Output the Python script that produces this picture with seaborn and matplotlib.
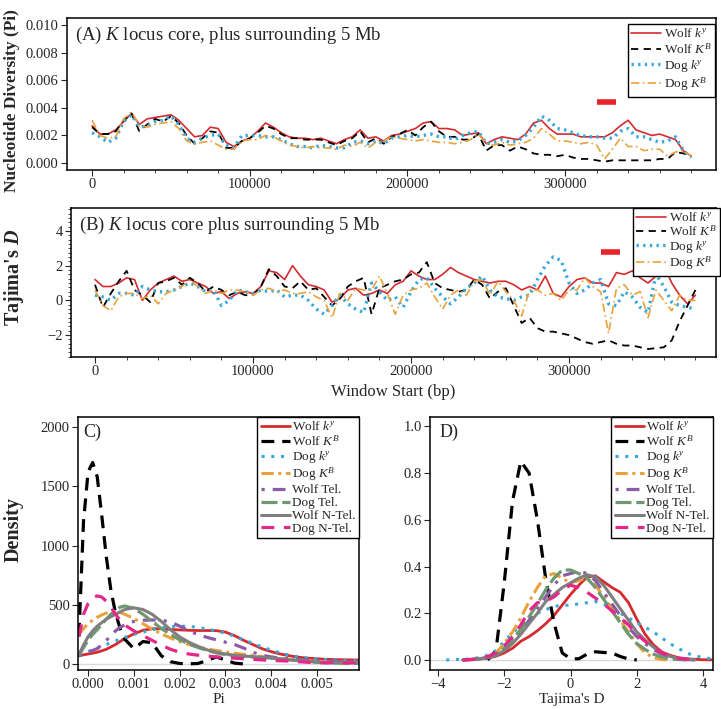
import numpy as np
import pandas as pd
import matplotlib.pyplot as plt
import seaborn as sns
from matplotlib.ticker import AutoMinorLocator, MultipleLocator

sns.set_style('ticks')
plt.rcParams['font.family'] = ['Liberation Serif', 'DejaVu Serif']
plt.rcParams['mathtext.fontset'] = 'custom'
plt.rcParams['mathtext.rm'] = 'Liberation Serif'
plt.rcParams['mathtext.it'] = 'Liberation Serif:italic'
plt.rcParams['mathtext.bf'] = 'Liberation Serif:bold'
plt.rcParams['mathtext.bfit'] = 'Liberation Serif:bold:italic'

# ---- data: sliding windows (panels A, B) ----
win_start = np.arange(0, 385000, 5000)

pi_wolf_ky = [0.0027, 0.0021, 0.0021, 0.0024, 0.0030, 0.0036, 0.0028, 0.0032, 0.0033, 0.0034,
              0.0035, 0.0031, 0.0025, 0.0019, 0.0020, 0.0026, 0.0025, 0.0015, 0.0012, 0.0016,
              0.0018, 0.0023, 0.0029, 0.0026, 0.0022, 0.0019, 0.0018, 0.0018, 0.0017, 0.0018,
              0.0016, 0.0014, 0.0017, 0.0019, 0.0024, 0.0018, 0.0019, 0.0016, 0.0020, 0.0021,
              0.0023, 0.0025, 0.0029, 0.0030, 0.0025, 0.0025, 0.0024, 0.0020, 0.0021, 0.0022,
              0.0014, 0.0017, 0.0019, 0.0018, 0.0017, 0.0021, 0.0029, 0.0031, 0.0025, 0.0021,
              0.0021, 0.0021, 0.0019, 0.0019, 0.0019, 0.0019, 0.0022, 0.0027, 0.0031, 0.0024,
              0.0022, 0.0020, 0.0021, 0.0019, 0.0017, 0.0009, 0.0005]
pi_wolf_KB = [0.0026, 0.0021, 0.0021, 0.0023, 0.0031, 0.0036, 0.0023, 0.0028, 0.0032, 0.0030,
              0.0034, 0.0029, 0.0020, 0.0014, 0.0018, 0.0023, 0.0022, 0.0011, 0.0011, 0.0016,
              0.0018, 0.0022, 0.0027, 0.0025, 0.0021, 0.0018, 0.0018, 0.0017, 0.0017, 0.0017,
              0.0015, 0.0013, 0.0016, 0.0018, 0.0023, 0.0015, 0.0018, 0.0014, 0.0019, 0.0021,
              0.0024, 0.0020, 0.0026, 0.0030, 0.0023, 0.0019, 0.0019, 0.0017, 0.0017, 0.0021,
              0.0009, 0.0013, 0.0013, 0.0009, 0.0012, 0.0010, 0.0007, 0.0006, 0.0006, 0.0005,
              0.0006, 0.0004, 0.0003, 0.0003, 0.0002, 0.0001, 0.0002, 0.0002, 0.0002, 0.0002,
              0.0002, 0.0002, 0.0003, 0.0003, 0.0008, 0.0007, 0.0005]
pi_dog_ky = [0.0022, 0.0019, 0.0015, 0.0018, 0.0030, 0.0035, 0.0026, 0.0027, 0.0030, 0.0031,
             0.0034, 0.0028, 0.0018, 0.0015, 0.0018, 0.0020, 0.0021, 0.0013, 0.0011, 0.0020,
             0.0020, 0.0020, 0.0019, 0.0019, 0.0017, 0.0014, 0.0012, 0.0012, 0.0011, 0.0013,
             0.0012, 0.0011, 0.0011, 0.0015, 0.0016, 0.0014, 0.0016, 0.0014, 0.0018, 0.0019,
             0.0020, 0.0019, 0.0020, 0.0021, 0.0019, 0.0019, 0.0017, 0.0020, 0.0022, 0.0023,
             0.0014, 0.0015, 0.0017, 0.0015, 0.0016, 0.0020, 0.0026, 0.0034, 0.0031, 0.0025,
             0.0024, 0.0022, 0.0020, 0.0019, 0.0019, 0.0018, 0.0018, 0.0023, 0.0025, 0.0019,
             0.0019, 0.0017, 0.0015, 0.0016, 0.0019, 0.0009, 0.0004]
pi_dog_KB = [0.0031, 0.0020, 0.0018, 0.0019, 0.0032, 0.0037, 0.0027, 0.0026, 0.0028, 0.0029,
             0.0030, 0.0025, 0.0016, 0.0014, 0.0015, 0.0016, 0.0013, 0.0010, 0.0010, 0.0016,
             0.0017, 0.0017, 0.0020, 0.0019, 0.0016, 0.0013, 0.0012, 0.0011, 0.0012, 0.0011,
             0.0011, 0.0010, 0.0013, 0.0012, 0.0015, 0.0011, 0.0015, 0.0016, 0.0019, 0.0018,
             0.0017, 0.0016, 0.0017, 0.0016, 0.0015, 0.0015, 0.0014, 0.0015, 0.0017, 0.0021,
             0.0014, 0.0013, 0.0015, 0.0013, 0.0014, 0.0015, 0.0018, 0.0025, 0.0021, 0.0016,
             0.0016, 0.0015, 0.0014, 0.0015, 0.0013, 0.0003, 0.0010, 0.0018, 0.0012, 0.0012,
             0.0009, 0.0010, 0.0010, 0.0005, 0.0008, 0.0009, 0.0005]

td_wolf_ky = [1.2, 0.8, 0.8, 1.0, 1.3, 1.2, 0.0, 0.6, 1.0, 1.2,
              1.4, 1.1, 1.2, 1.0, 0.8, 0.4, 0.5, 0.1, 0.4, 0.5,
              0.4, 0.8, 1.7, 1.6, 1.2, 2.0, 1.4, 0.9, 0.8, 0.6,
              -0.1, 0.1, 0.6, 0.7, 0.3, 0.4, 0.6, 0.4, 0.9, 1.1,
              1.7, 1.4, 1.2, 1.2, 1.5, 1.9, 1.6, 1.4, 1.2, 1.1,
              1.0, 1.1, 1.1, 0.9, 0.6, 0.8, 0.6, 1.4, 0.4, 0.2,
              0.8, 1.2, 1.3, 1.0, 1.0, 0.8, 1.6, 1.5, 1.7, 1.3,
              1.0, 1.4, 2.0, 1.0, 0.3, -0.2, 0.3]
td_wolf_KB = [0.9, -0.4, 0.4, 1.1, 1.7, 0.6, 0.3, -0.1, 1.0, 1.1,
              1.3, 0.9, 1.3, 1.0, 0.5, 0.8, 0.6, 0.3, 0.5, 0.3,
              0.3, 0.8, 1.8, 1.4, 0.8, 0.7, 1.1, 0.6, 0.7, 0.2,
              -0.3, 0.1, 0.8, 1.1, 1.3, -0.8, 0.7, 0.9, 1.1, 1.2,
              1.5, 1.6, 2.2, 1.0, 0.7, 0.6, 0.5, 0.6, 1.2, 0.9,
              0.1, 0.5, 0.7, -0.3, -1.3, -1.0, -1.6, -1.8, -1.8, -1.9,
              -2.0, -2.2, -2.4, -2.5, -2.4, -2.3, -2.5, -2.6, -2.6, -2.7,
              -2.8, -2.75, -2.7, -2.3, -1.2, -0.3, 0.6]
td_dog_ky = [0.3, 0.2, 0.0, 0.4, 0.4, 0.3, 0.8, 0.6, 0.5, 0.5,
             0.6, 0.8, 1.0, 0.8, 0.5, 0.6, -0.3, 0.0, 0.6, 0.5,
             0.4, 0.6, 0.5, 0.6, 0.2, 0.3, 0.3, 0.0, -0.5, -0.8,
             -0.3, 0.3, -0.2, -0.5, -0.7, 1.0, 0.5, 0.0, 0.2, -0.4,
             0.5, 1.2, 1.3, 0.7, 0.2, -0.2, 0.2, 0.7, 1.0, 1.4,
             0.6, 0.2, 0.1, 0.0, 0.2, 0.3, 1.2, 2.0, 2.5, 2.3,
             1.0, 0.4, 0.6, 1.0, 1.2, -0.2, -0.3, 0.5, 0.2, -0.4,
             -0.7, 1.5, 0.8, -0.1, -0.3, -0.4, -0.5]
td_dog_KB = [0.6, -0.3, -0.6, 0.2, 0.4, 0.4, 0.1, 0.3, -0.2, 0.4,
             0.6, 0.8, 1.2, 0.8, 0.4, 0.6, 0.4, 0.6, 0.6, 0.5,
             0.3, 0.6, 0.7, 0.5, 0.6, 0.4, 0.4, 0.5, 0.2, 0.0,
             -1.0, 0.4, 0.0, 0.7, 0.6, 0.6, 1.4, 0.4, -0.8, 0.3,
             0.6, 0.7, 1.0, 0.2, -0.5, 0.3, 0.6, 0.3, 1.1, 1.2,
             0.3, 1.1, 0.5, 0.0, -0.9, 0.6, 0.6, 0.3, 0.4, 0.0,
             0.6, 0.6, 1.3, 0.8, 0.5, -1.9, 0.7, 0.9, 0.3, 0.5,
             -1.0, 0.6, 0.0, -0.6, 0.3, 0.0, 0.0]

# K locus core region marker
core_start, core_end = 320000, 332000
core_pi_level = 0.0044
core_td_level = 2.8

# ---- data: densities (panels C, D) ----
pi_grid = [-0.0002, -0.0001, 0.0, 0.0001, 0.0002, 0.0003, 0.0004, 0.0005, 0.0006, 0.0007, 0.0008,
           0.0010, 0.0012, 0.0014, 0.0016, 0.0018, 0.0020, 0.0022, 0.0024, 0.0026, 0.0028,
           0.0030, 0.0032, 0.0034, 0.0036, 0.0038, 0.0040, 0.0042, 0.0044, 0.0046, 0.0048,
           0.0050, 0.0052, 0.0054, 0.0056, 0.0058, 0.0060]
nan = np.nan
dens_pi = {
    'wolf_ky': [70, 78, 85, 92, 100, 112, 125, 145, 165, 190, 215,
                255, 285, 298, 298, 292, 288, 285, 283, 283, 282,
                270, 240, 200, 165, 130, 105, 85, 70, 58, 50,
                45, 40, 38, 36, 35, 34],
    'wolf_KB': [240, 1200, 1620, 1700, 1580, 1250, 900, 620, 430, 300, 210,
                130, 190, 180, 70, 20, 5, 2, 5, 30, 60,
                35, 8, 1, nan, nan, nan, nan, nan, nan, nan,
                nan, nan, nan, nan, nan, nan],
    'dog_ky': [80, 90, 105, 120, 135, 150, 165, 180, 195, 210, 225,
               250, 270, 290, 305, 315, 320, 318, 310, 295, 280,
               260, 235, 205, 175, 145, 118, 95, 75, 60, 50,
               43, 38, 34, 30, 28, 26],
    'dog_KB': [250, 300, 340, 370, 395, 415, 430, 438, 440, 435, 420,
               385, 340, 295, 255, 220, 190, 165, 145, 128, 115,
               103, 92, 82, 73, 64, 55, 46, 38, 31, 26,
               22, 19, 17, 16, 15, 15],
    'wolf_tel': [70, 85, 100, 115, 130, 165, 200, 240, 280, 310, 330,
                 360, 370, 372, 370, 355, 320, 280, 250, 225, 205,
                 185, 165, 135, 100, 75, 60, 50, 45, 40, 35,
                 30, 26, 23, 21, 20, 20],
    'dog_tel': [70, 140, 200, 250, 290, 335, 380, 420, 450, 480, 490,
                470, 420, 360, 300, 250, 205, 170, 140, 115, 95,
                80, 70, 65, 60, 55, 50, 45, 38, 30, 22,
                15, 10, 8, 7, 6, 6],
    'wolf_ntel': [80, 160, 230, 280, 320, 350, 380, 400, 420, 440, 460,
                  475, 460, 420, 360, 290, 230, 185, 150, 120, 100,
                  85, 75, 68, 62, 56, 50, 42, 35, 28, 22,
                  18, 15, 13, 12, 12, 12],
    'dog_ntel': [230, 420, 510, 560, 575, 565, 530, 480, 420, 370, 330,
                 280, 240, 200, 160, 125, 100, 85, 75, 68, 60,
                 55, 50, 45, 40, 35, 30, 28, 25, 20, 15,
                 12, 11, 10, 10, 10, 10],
}

td_grid = np.arange(-3.75, 4.5, 0.25)
dens_td = {
    'wolf_ky': [nan, nan, 0.0, 0.001, 0.004, 0.008, 0.016, 0.03, 0.05, 0.08, 0.10, 0.125, 0.155, 0.19,
                0.235, 0.28, 0.32, 0.355, 0.36, 0.335, 0.31, 0.29, 0.245, 0.175, 0.11, 0.065, 0.035,
                0.02, 0.01, 0.005, 0.003, 0.001, 0.0005],
    'wolf_KB': [nan, nan, nan, nan, nan, 0.0, 0.04, 0.33, 0.68, 0.85, 0.8, 0.6, 0.35, 0.16, 0.03,
                0.005, 0.005, 0.025, 0.035, 0.032, 0.03, 0.015, 0.004, 0.0,
                nan, nan, nan, nan, nan, nan, nan, nan, nan],
    'dog_ky': [0.0, 0.002, 0.003, 0.005, 0.01, 0.02, 0.04, 0.08, 0.115, 0.15, 0.175, 0.20, 0.215,
               0.23, 0.233, 0.235, 0.24, 0.245, 0.25, 0.24, 0.22, 0.2, 0.18, 0.16, 0.14, 0.12, 0.095,
               0.07, 0.05, 0.03, 0.018, 0.01, 0.005],
    'dog_KB': [nan, nan, nan, 0.0, 0.004, 0.01, 0.03, 0.07, 0.12, 0.18, 0.25, 0.31, 0.36, 0.37,
               0.35, 0.33, 0.34, 0.35, 0.32, 0.27, 0.22, 0.17, 0.12, 0.07, 0.03, 0.01, 0.002, 0.0,
               nan, nan, nan, nan, nan],
    'wolf_tel': [nan, nan, 0.0, 0.002, 0.005, 0.01, 0.02, 0.04, 0.075, 0.12, 0.17, 0.22, 0.27,
                 0.32, 0.36, 0.37, 0.38, 0.37, 0.34, 0.29, 0.24, 0.19, 0.14, 0.1, 0.07, 0.045,
                 0.025, 0.012, 0.005, 0.002, 0.0, nan, nan],
    'dog_tel': [nan, nan, 0.0, 0.002, 0.005, 0.01, 0.025, 0.05, 0.09, 0.13, 0.185, 0.24, 0.3,
                0.35, 0.385, 0.385, 0.37, 0.35, 0.31, 0.26, 0.21, 0.16, 0.11, 0.07, 0.045, 0.025,
                0.012, 0.005, 0.002, 0.0, nan, nan, nan],
    'wolf_ntel': [nan, nan, 0.0, 0.002, 0.005, 0.01, 0.02, 0.04, 0.07, 0.11, 0.155, 0.2, 0.25,
                  0.28, 0.31, 0.33, 0.35, 0.365, 0.355, 0.32, 0.27, 0.22, 0.17, 0.12, 0.085,
                  0.055, 0.03, 0.015, 0.007, 0.003, 0.001, nan, nan],
    'dog_ntel': [nan, nan, 0.0, 0.002, 0.006, 0.015, 0.03, 0.06, 0.1, 0.15, 0.21, 0.245, 0.25,
                 0.27, 0.3, 0.32, 0.31, 0.29, 0.265, 0.24, 0.21, 0.18, 0.15, 0.11, 0.08, 0.05,
                 0.03, 0.015, 0.007, 0.003, 0.001, nan, nan],
}

# ---- styles ----
RED, BLUE, ORANGE = '#d52a2e', '#37a8dc', '#e9a23b'
PURPLE, GREEN, GRAY, MAGENTA = '#8d5ba6', '#6e9870', '#7f7f7f', '#e4288a'

labels = {
    'wolf_ky': 'Wolf $k^{y}$', 'wolf_KB': 'Wolf $K^{B}$',
    'dog_ky': 'Dog $k^{y}$', 'dog_KB': 'Dog $K^{B}$',
    'wolf_tel': 'Wolf Tel.', 'dog_tel': 'Dog Tel.',
    'wolf_ntel': 'Wolf N-Tel.', 'dog_ntel': 'Dog N-Tel.',
}
win_styles = {
    'wolf_ky': dict(color=RED, linestyle='-', lw=1.2),
    'wolf_KB': dict(color='black', linestyle=(0, (4, 3)), lw=1.3),
    'dog_ky': dict(color=BLUE, linestyle=(0, (0.7, 1.3)), lw=2.4),
    'dog_KB': dict(color=ORANGE, linestyle=(0, (5, 2, 1, 2)), lw=1.2),
}
dens_styles = {
    'wolf_ky': dict(color=RED, linestyle='-', lw=2.0),
    'wolf_KB': dict(color='black', linestyle=(0, (4, 2.5)), lw=2.3),
    'dog_ky': dict(color=BLUE, linestyle=(0, (1, 2.2)), lw=2.2),
    'dog_KB': dict(color=ORANGE, linestyle=(0, (4, 1.5, 1, 1.5)), lw=2.2),
    'wolf_tel': dict(color=PURPLE, linestyle=(0, (1, 2.5, 4, 2.5)), lw=2.3),
    'dog_tel': dict(color=GREEN, linestyle=(0, (5, 1.5)), lw=2.3),
    'wolf_ntel': dict(color=GRAY, linestyle='-', lw=2.2),
    'dog_ntel': dict(color=MAGENTA, linestyle=(0, (4, 3)), lw=2.3),
}

pi_win = {'wolf_ky': pi_wolf_ky, 'wolf_KB': pi_wolf_KB, 'dog_ky': pi_dog_ky, 'dog_KB': pi_dog_KB}
td_win = {'wolf_ky': td_wolf_ky, 'wolf_KB': td_wolf_KB, 'dog_ky': td_dog_ky, 'dog_KB': td_dog_KB}

W, H = 721, 709
fig = plt.figure(figsize=(W / 100, H / 100), dpi=100)


def box(l, t, r, b):
    return [l / W, 1 - b / H, (r - l) / W, (b - t) / H]


axA = fig.add_axes(box(67, 18, 716, 170))
axB = fig.add_axes(box(71, 208, 716, 357))
axC = fig.add_axes(box(78, 417, 359, 670))
axD = fig.add_axes(box(430, 417, 713, 670))

for ax in (axA, axB, axC, axD):
    for sp in ax.spines.values():
        sp.set_linewidth(1.1)
        sp.set_color('black')
    ax.tick_params(direction='out', length=4, width=0.8, labelsize=10.5, pad=2,
                   top=False, right=False)
    ax.tick_params(which='minor', direction='out', length=2, width=0.6)

# panels A and B
for ax, series, styles in ((axA, pi_win, win_styles), (axB, td_win, win_styles)):
    for key, vals in series.items():
        sns.lineplot(x=win_start, y=vals, ax=ax, label=labels[key], **styles[key])

axA.plot([core_start, core_end], [core_pi_level, core_pi_level], color='#e8242a', lw=4,
         solid_capstyle='butt')
axB.plot([core_start, core_end], [core_td_level, core_td_level], color='#e8242a', lw=4,
         solid_capstyle='butt')

axA.set_xlim(-15900, 395700)
axA.set_ylim(-0.0005, 0.0105)
axA.yaxis.set_major_locator(MultipleLocator(0.002))
axA.yaxis.set_major_formatter(plt.FuncFormatter(lambda v, p: f'{v:.3f}'))
axA.xaxis.set_major_locator(MultipleLocator(100000))
axA.xaxis.set_minor_locator(AutoMinorLocator(5))
axA.set_xlabel('')
axA.set_ylabel('')

axB.set_xlim(-15200, 393000)
axB.set_ylim(-3.26, 5.32)
axB.yaxis.set_major_locator(MultipleLocator(2))
axB.yaxis.set_minor_locator(AutoMinorLocator(8))
axB.yaxis.set_major_formatter(plt.FuncFormatter(lambda v, p: f'{v:.0f}'.replace('-', '\u2212')))
axB.xaxis.set_major_locator(MultipleLocator(100000))
axB.xaxis.set_minor_locator(AutoMinorLocator(5))
axB.set_xlabel('Window Start (bp)', fontsize=12, labelpad=4)
axB.set_ylabel('')

axA.text(0.012, 0.955, '(A) $K$ locus core, plus surrounding 5 Mb', transform=axA.transAxes,
         fontsize=13.5, va='top', ha='left')
axB.text(0.012, 0.955, '(B) $K$ locus core plus surrounding 5 Mb', transform=axB.transAxes,
         fontsize=13.5, va='top', ha='left')

leg_kw = dict(frameon=True, fancybox=False, edgecolor='black', framealpha=1,
              borderpad=0.25, handletextpad=0.2, borderaxespad=0, fontsize=9.5)
axA.legend(loc='upper right', bbox_to_anchor=(715 / W, 1 - 24 / H), bbox_transform=fig.transFigure,
           handlelength=2.3, labelspacing=0.12, **leg_kw).get_frame().set_linewidth(1.0)
axB.legend(loc='upper right', bbox_to_anchor=(720 / W, 1 - 208 / H), bbox_transform=fig.transFigure,
           handlelength=2.3, labelspacing=0.0, **leg_kw).get_frame().set_linewidth(1.0)

# panels C and D
for ax, grid, dens in ((axC, pi_grid, dens_pi), (axD, td_grid, dens_td)):
    ax.axhline(0, color='#d9d9d9', lw=1, zorder=0)
    for key, vals in dens.items():
        df = pd.DataFrame({'x': grid, 'y': vals}).dropna()
        sns.lineplot(data=df, x='x', y='y', ax=ax, label=labels[key], **dens_styles[key])
    ax.set_ylabel('')
    ax.legend(loc='upper right', handlelength=2.2, labelspacing=0.05, **leg_kw).get_frame().set_linewidth(1.0)

axC.set_xlim(-0.00022, 0.00592)
axC.set_ylim(-50, 2084)
axC.xaxis.set_major_locator(MultipleLocator(0.001))
axC.xaxis.set_major_formatter(plt.FuncFormatter(lambda v, p: f'{v:.3f}'))
axC.yaxis.set_major_locator(MultipleLocator(500))
axC.set_xlabel('Pi', fontsize=11, labelpad=1)
axC.text(0.018, 0.975, 'C)', transform=axC.transAxes, fontsize=13, va='top', ha='left')

axD.set_xlim(-4.24, 4.3)
axD.set_ylim(-0.043, 1.04)
axD.xaxis.set_major_locator(MultipleLocator(2))
axD.xaxis.set_major_formatter(plt.FuncFormatter(lambda v, p: f'{v:.0f}'.replace('-', '\u2212')))
axD.yaxis.set_major_locator(MultipleLocator(0.2))
axD.yaxis.set_major_formatter(plt.FuncFormatter(lambda v, p: f'{v:.1f}'))
axD.set_xlabel("Tajima's D", fontsize=11, labelpad=1)
axD.text(0.035, 0.975, 'D)', transform=axD.transAxes, fontsize=13, va='top', ha='left')

# bold y labels drawn at fixed figure positions
fig.text(12 / W, 1 - 101 / H, 'Nucleotide Diversity (Pi)', rotation=90, fontsize=12.5,
         fontweight='bold', ha='center', va='center')
fig.text(14 / W, 1 - 277 / H, "Tajima's $\\mathbfit{D}$", rotation=90, fontsize=14.5,
         fontweight='bold', ha='center', va='center')
fig.text(14 / W, 1 - 530 / H, 'Density', rotation=90, fontsize=14.5,
         fontweight='bold', ha='center', va='center')

fig.savefig('out.png', dpi=100)
